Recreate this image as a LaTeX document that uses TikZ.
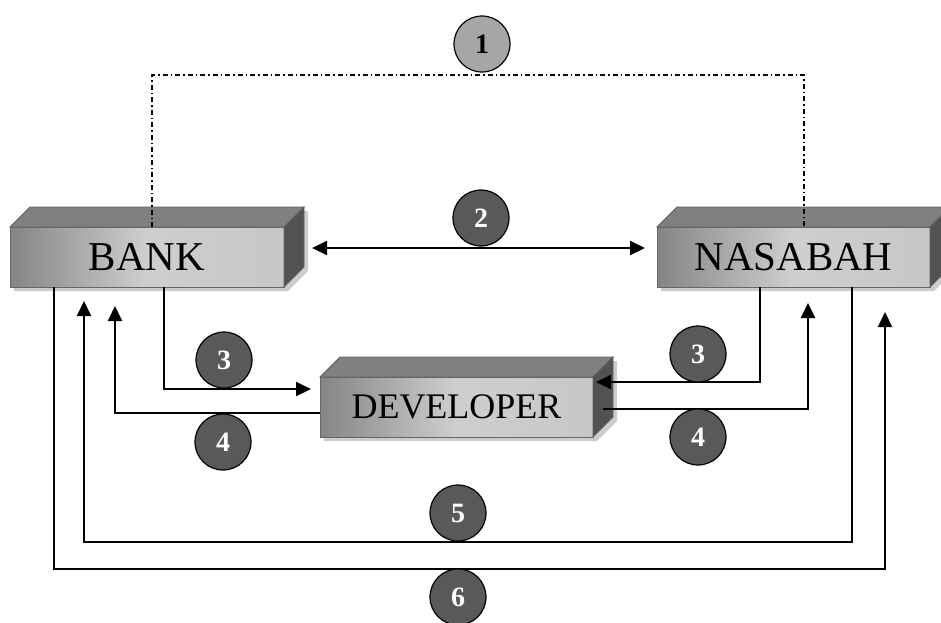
\documentclass[tikz,border=0pt]{standalone}
\usepackage{fontspec}
\setmainfont{Liberation Serif}
\usetikzlibrary{arrows.meta,calc,backgrounds}

\newcommand\cubebox[5]{%
  \node[cubefront, minimum width=#3, font=#4] (#1) at #2 {#5};
  \begin{scope}[on background layer]
    \fill[shadowcol] ($(#1.south west)+(4,4)$) -- ($(#1.north west)+(4,4)$)
      -- ($(#1.north west)+(24,-16)$) -- ($(#1.north east)+(24,-16)$)
      -- ($(#1.south east)+(24,-16)$) -- ($(#1.south east)+(4,4)$) -- cycle;
  \end{scope}
  \filldraw[topface] (#1.north west) -- ++(20,-20) -- ($(#1.north east)+(20,-20)$) -- (#1.north east) -- cycle;
  \filldraw[sideface] (#1.north east) -- ++(20,-20) -- ($(#1.south east)+(20,-20)$) -- (#1.south east) -- cycle;
}

\begin{document}
\begin{tikzpicture}[x=1pt,y=-1pt,
  cubefront/.style={draw=black!60, line width=0.8pt, minimum height=60pt, inner sep=0pt, outer sep=0pt,
    left color=black!48, right color=black!22, middle color=black!19},
  topface/.style={fill=black!50, draw=black!62, line width=0.8pt},
  sideface/.style={fill=black!68, draw=black!62, line width=0.8pt},
  shadowcol/.style={fill=black!20},
  num/.style={circle, draw=black, line width=1.2pt, minimum size=56pt, inner sep=0pt,
    font=\fontsize{28}{28}\selectfont\bfseries},
  darknum/.style={num, fill=black!65, text=white},
  lightnum/.style={num, fill=black!35, text=black},
  conn/.style={line width=2pt, -{Triangle[length=15pt,width=14pt]}},
  dconn/.style={line width=2pt, {Triangle[length=15pt,width=14pt]}-{Triangle[length=15pt,width=14pt]}},
  dd/.style={line width=1.2pt, dash pattern=on 5pt off 3pt on 1.5pt off 3pt}
]
\useasboundingbox (0,0) rectangle (941,622);

\cubebox{bank}{(147,257)}{274pt}{\fontsize{41}{41}\selectfont}{BANK}
\cubebox{nas}{(793.5,257)}{273pt}{\fontsize{41}{41}\selectfont}{NASABAH}
\cubebox{dev}{(456.5,407)}{273pt}{\fontsize{36}{36}\selectfont}{DEVELOPER}

% 1: dash-dot relation
\draw[dd] ($(bank.north)+(5,0)$) |- ($(nas.north)+(10.5,-152)$) -- ($(nas.north)+(10.5,0)$);

% 2
\draw[dconn] ($(bank.east)+(28,-9)$) -- ($(nas.west)+(-12,-9)$);

% 3 left
\draw[conn] ($(bank.south west)+(154,0)$) |- ($(dev.west)+(-9,-18)$);
% 4 left
\draw[conn] ($(dev.west)+(0,6)$) -| ($(bank.south west)+(105,19)$);
% 3 right
\draw[conn] ($(nas.south west)+(103,0)$) |- ($(dev.east)+(3,-25)$);
% 4 right
\draw[conn] ($(dev.east)+(10,2)$) -| ($(nas.south west)+(151,16)$);
% 5
\draw[conn] ($(nas.south west)+(195,0)$) |- ($(bank.south west)+(74,255)$) -- ($(bank.south west)+(74,14)$);
% 6
\draw[conn] ($(bank.south west)+(44,0)$) |- ($(nas.south west)+(228,282)$) -- ($(nas.south west)+(228,25)$);

% number circles
\node[lightnum] (c1) at (482,44) {\raisebox{-3pt}{1}};
\node[darknum] (c2) at (481,218) {\raisebox{-3pt}{2}};
\node[darknum] (c3l) at (224,360) {\raisebox{-3pt}{3}};
\node[darknum] (c4l) at (223,442) {\raisebox{-3pt}{4}};
\node[darknum] (c3r) at (698,354) {\raisebox{-3pt}{3}};
\node[darknum] (c4r) at (698,437) {\raisebox{-3pt}{4}};
\node[darknum] (c5) at (458,513) {\raisebox{-3pt}{5}};
\node[darknum] (c6) at (458,597) {\raisebox{-3pt}{6}};
\end{tikzpicture}
\end{document}
